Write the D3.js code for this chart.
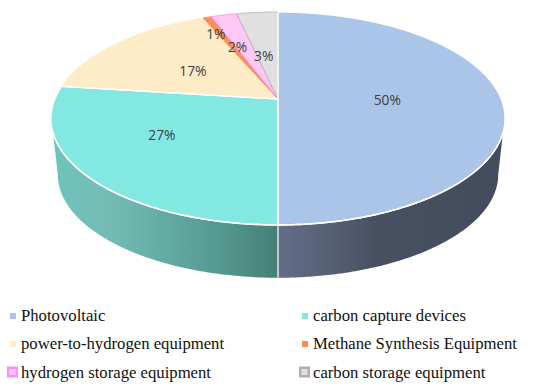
<!DOCTYPE html>
<html><head><meta charset="utf-8">
<script src="https://cdn.jsdelivr.net/npm/d3@7"></script>
<style>html,body{margin:0;padding:0;background:#fff}svg{display:block}</style>
</head><body><svg id="c" width="550" height="388"></svg>
<script>
const categories=["Photovoltaic","carbon capture devices","power-to-hydrogen equipment","Methane Synthesis Equipment","hydrogen storage equipment","carbon storage equipment"];
const values=[50,27,16.6,0.7,2.2,3.5];
const labelTexts=["50%","27%","17%","1%","2%","3%"];
const topColors=["#abc5e9","#83e8e2","#feecc8","#ff8d55","#ffc8f5","#e0e0e0"];
const strokeColors=["#ffffff","#ffffff","#feecc8","#ff8d55","#ff90ee","#b4b4b4"];
const labelFractions=[0.489,0.589,0.493,0.781,0.59,0.458];
const labelAngleShift=[1.1,7.5,-1.6,-2,-3.2,-2.4];

const svg=d3.select("#c");
const cx=278,cy=99,A=223.2,B=102.9,k=0.183;
const dropY=56,bottomScale=0.97;
const pie=d3.pie().sort(null).value(d=>d).startAngle(0).endAngle(2*Math.PI);
const arcs=pie(values);
const rad=Math.PI/180;

// perspective projection of the unit disc
const project=(a,r=1)=>{const x=r*Math.sin(a),y=r*Math.cos(a),w=1+k*y;return [cx+A*x/w,cy-B*y/w];};
const projectBottom=a=>{const p=project(a);return [cx+(p[0]-cx)*bottomScale,p[1]+dropY-(p[1]-118.5)*(1-bottomScale)];};
const line=d3.line();
const samples=(a0,a1)=>{const n=Math.max(2,Math.ceil(Math.abs(a1-a0)/0.01));return d3.range(n+1).map(i=>a0+(a1-a0)*i/n);};

const defs=svg.append("defs");
const grad=(id,stops)=>{const g=defs.append("linearGradient").attr("id",id).attr("gradientUnits","userSpaceOnUse").attr("x1",52).attr("x2",505).attr("y1",0).attr("y2",0);
 stops.forEach(s=>g.append("stop").attr("offset",(s[0]-52)/453).attr("stop-color",s[1]));};
grad("sideRight",[[278,"#626d88"],[330,"#566074"],[375,"#485162"],[505,"#434c5c"]]);
grad("sideLeft",[[52,"#6cc4bb"],[105,"#74bdb5"],[200,"#5aa097"],[278,"#458077"]]);

const tangentTop=108.1*rad,tangentBottom=100.5*rad,mid=Math.PI;
const sidePath=(a0,a1,b0)=>line([...samples(a0,a1).map(a=>project(a)),...samples(a1,b0).map(projectBottom)])+"Z";
svg.append("path").attr("d",sidePath(tangentTop,mid,tangentBottom)).attr("fill","url(#sideRight)");
svg.append("path").attr("d",sidePath(2*Math.PI-tangentTop,mid,2*Math.PI-tangentBottom)).attr("fill","url(#sideLeft)");
// vertical seam between the two front walls
svg.append("path").attr("d",line([project(mid),projectBottom(mid)])).attr("stroke","#e8eef0").attr("stroke-width",1.4).attr("fill","none");

// top face
svg.append("g").selectAll("path").data(arcs).join("path")
 .attr("d",d=>line([[cx,cy],...samples(d.startAngle,d.endAngle).map(a=>project(a))])+"Z")
 .attr("fill",(d,i)=>topColors[i])
 .attr("stroke",(d,i)=>strokeColors[i])
 .attr("stroke-width",(d,i)=>i<2?1.4:0.9)
 .attr("stroke-linejoin","round");
// repaint separators that belong to the two big slices
[arcs[0].startAngle,arcs[0].endAngle,arcs[1].endAngle].forEach(a=>
 svg.append("path").attr("d",line([[cx,cy],project(a)])).attr("stroke","#fff").attr("stroke-width",1.4));
svg.append("path").attr("d",line(samples(tangentTop,2*Math.PI-tangentTop).map(a=>project(a)))).attr("fill","none").attr("stroke","#fff").attr("stroke-width",1.5);

// percent labels
const labelPos=(d,i)=>project((d.startAngle+d.endAngle)/2+labelAngleShift[i]*rad,labelFractions[i]);
svg.append("g").selectAll("text").data(arcs).join("text")
 .attr("x",(d,i)=>labelPos(d,i)[0])
 .attr("y",(d,i)=>labelPos(d,i)[1]+5)
 .attr("text-anchor","middle").attr("font-family","'Open Sans',sans-serif").attr("font-size",13.8).attr("fill","#404040")
 .text((d,i)=>labelTexts[i]);

// legend
const col=i=>i%2===0?0:1,row=i=>Math.floor(i/2);
const colX=d3.scaleOrdinal([0,1],[21,313]);
const rowY=d3.scaleOrdinal([0,1,2],[321,349,378]);
const lg=svg.append("g").selectAll("g").data(categories).join("g")
 .attr("transform",(d,i)=>`translate(${colX(col(i))},${rowY(row(i))})`);
lg.append("rect")
 .attr("x",(d,i)=>i>=4?-12.75:-11)
 .attr("y",(d,i)=>i>=4?-10.25:-8)
 .attr("width",(d,i)=>i>=4?8.5:6)
 .attr("height",(d,i)=>i>=4?8.5:6)
 .attr("fill",(d,i)=>topColors[i])
 .attr("stroke",(d,i)=>i===4?"#ff90ee":i===5?"#b4b0b0":"none")
 .attr("stroke-width",(d,i)=>i>=4?2.5:0);
lg.append("text").attr("x",0).attr("y",0).attr("font-family","'Liberation Serif',serif").attr("font-size",16.7).attr("fill","#111").text(d=>d);
</script></body></html>
